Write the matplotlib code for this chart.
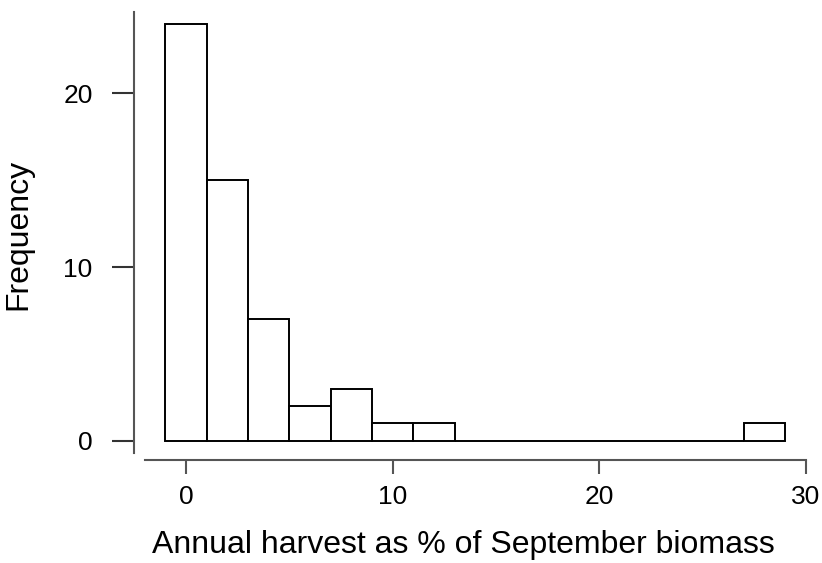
import matplotlib.pyplot as plt
import numpy as np

plt.rcParams['font.family'] = ['Liberation Sans', 'DejaVu Sans']

# harvest histogram: bin edges (%) and counts per bin
bin_edges = np.arange(-1, 30, 2)
counts = [24, 15, 7, 2, 3, 1, 1, 0, 0, 0, 0, 0, 0, 0, 1]
x_ticks = [0, 10, 20, 30]
y_ticks = [0, 10, 20]

fig = plt.figure(figsize=(8.22, 5.63), dpi=100)
ax = fig.add_axes([0.1509, 0.1556, 0.8422, 0.8325])

centers = (bin_edges[:-1] + bin_edges[1:]) / 2
ax.hist(centers, bins=bin_edges, weights=counts, facecolor='white',
        edgecolor='black', linewidth=1.4)

ax.set_xlim(-3, 30.5)
ax.set_ylim(-2, 25)

# detached R-style axes
for side in ['top', 'right']:
    ax.spines[side].set_visible(False)
ax.spines['left'].set_position(('data', -2.5))
ax.spines['left'].set_bounds(-0.73, 24.7)
ax.spines['bottom'].set_position(('data', -1.13))
ax.spines['bottom'].set_bounds(-2, 30)
for side in ['left', 'bottom']:
    ax.spines[side].set_color('#555555')
    ax.spines[side].set_linewidth(1.5)

ax.set_xticks(x_ticks)
ax.set_yticks(y_ticks)
ax.tick_params(axis='y', length=16, width=1.5, color='#333333', labelsize=19, pad=14)
ax.tick_params(axis='x', length=10, width=1.5, color='#555555', labelsize=19, pad=8)

ax.set_xlabel('Annual harvest as % of September biomass', fontsize=23)
ax.set_ylabel('Frequency', fontsize=23)
ax.xaxis.set_label_coords(0.49, -0.117)
ax.yaxis.set_label_coords(-0.131, 0.515)

fig.savefig('out.png', dpi=100)
